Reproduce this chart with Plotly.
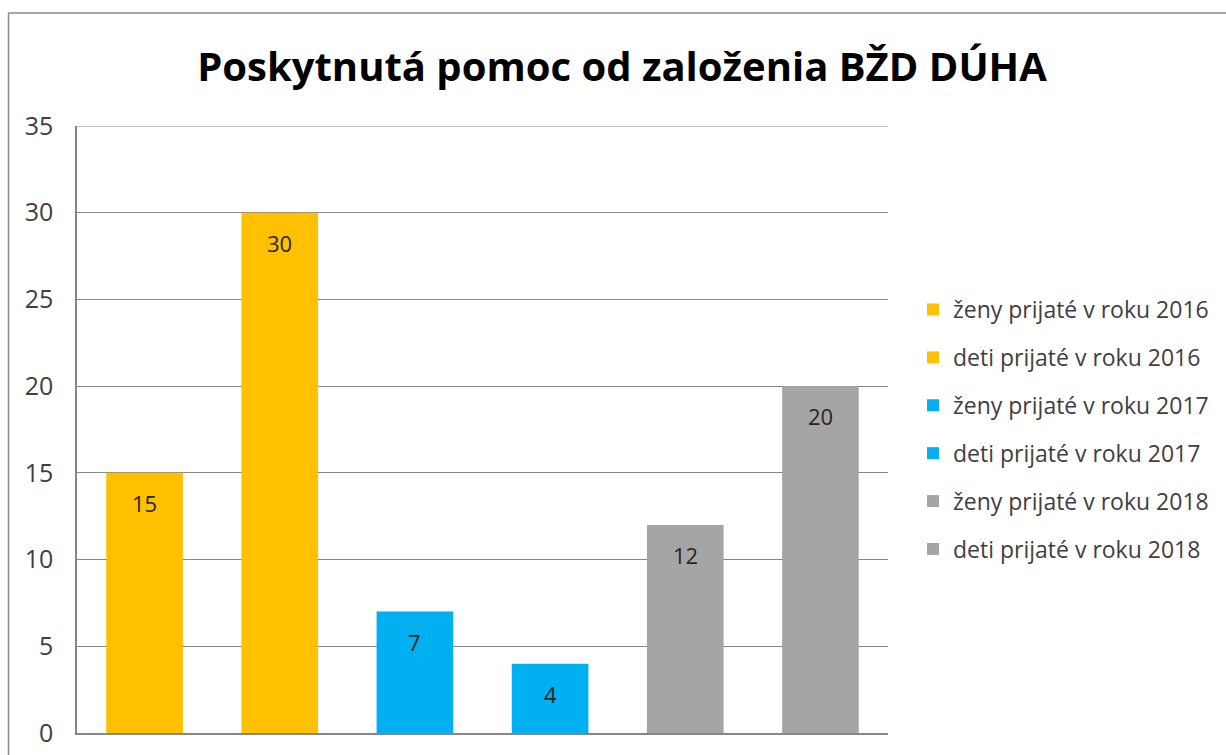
import plotly.graph_objects as go

categories = ["ženy prijaté v roku 2016", "deti prijaté v roku 2016",
              "ženy prijaté v roku 2017", "deti prijaté v roku 2017",
              "ženy prijaté v roku 2018", "deti prijaté v roku 2018"]
values = [15, 30, 7, 4, 12, 20]
colors = ["#FFC000", "#FFC000", "#00B0F0", "#00B0F0", "#A5A5A5", "#A5A5A5"]
y_ticks = [0, 5, 10, 15, 20, 25, 30, 35]
title_text = "Poskytnutá pomoc od založenia BŽD DÚHA"

FONT = "Open Sans"
W, H = 1226, 755
PLOT_L, PLOT_R, PLOT_T, PLOT_B = 77, 888, 126, 733  # target pixel box in the window
ml = PLOT_L
mr = W - PLOT_R
mt = PLOT_T
mb = H - PLOT_B
pw = W - ml - mr
ph = H - mt - mb


def px_x(px):
    return (px - ml) / pw


def px_y(py):
    return (H - mb - py) / ph


fig = go.Figure()
for i, (cat, val, col) in enumerate(zip(categories, values, colors)):
    fig.add_trace(go.Bar(
        x=[cat], y=[val], name=cat, marker=dict(color=col, line=dict(width=0)),
        legendgroup=f"g{i}", showlegend=True, hoverinfo="skip",
    ))
    fig.add_annotation(x=cat, y=val, text=str(val), showarrow=False,
                       xref="x", yref="y", yanchor="middle", yshift=-30,
                       font=dict(family=FONT, size=22, color="#262626"))

# top gridline at the axis maximum
fig.add_shape(type="line", xref="paper", yref="y", x0=0, x1=1,
              y0=y_ticks[-1], y1=y_ticks[-1], line=dict(color="#878787", width=1.2))
# chart border (left and top)
fig.add_shape(type="line", xref="paper", yref="paper",
              x0=px_x(8.5), x1=px_x(8.5), y0=px_y(13), y1=-0.2,
              line=dict(color="#878787", width=1.5))
fig.add_shape(type="line", xref="paper", yref="paper",
              x0=px_x(8.5), x1=px_x(1240), y0=px_y(13), y1=px_y(13),
              line=dict(color="#878787", width=1.5))

fig.update_layout(
    width=W, height=H,
    margin=dict(l=ml, r=mr, t=mt, b=mb, pad=0, autoexpand=False),
    paper_bgcolor="white", plot_bgcolor="white",
    bargap=0.433,
    barmode="group",
    title=dict(text=f"<b>{title_text}</b>", x=622 / W, xanchor="center",
               y=1 - 67 / H, yanchor="middle", yref="container", xref="container",
               font=dict(family=FONT, size=40, color="black")),
    xaxis=dict(categoryorder="array", categoryarray=categories,
               showticklabels=False, showgrid=False, zeroline=False,
               showline=True, linecolor="#878787", linewidth=1.5, ticks=""),
    yaxis=dict(range=[0, 35], tickvals=y_ticks, showgrid=True, gridcolor="#878787",
               gridwidth=1.2, zeroline=False, showline=True, linecolor="#878787",
               linewidth=1.5, ticks="", ticklabelstandoff=17, ticklabeloverflow="allow",
               tickfont=dict(family=FONT, size=25, color="#404040")),
    legend=dict(x=px_x(913), xanchor="left", y=px_y(288), yanchor="top",
                traceorder="grouped", tracegroupgap=15, itemwidth=30,
                font=dict(family=FONT, size=23, color="#404040"),
                bgcolor="rgba(0,0,0,0)"),
    showlegend=True,
)

fig.write_html("out.html",
               config={"displayModeBar": False},
               post_script="document.body.style.margin='0px';document.body.style.overflow='hidden';")
